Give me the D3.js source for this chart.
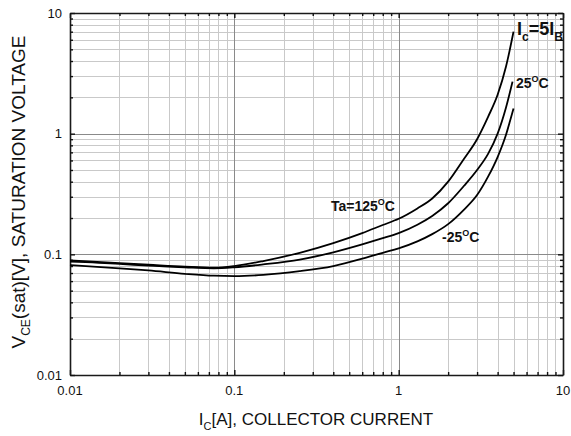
<!DOCTYPE html>
<html><head><meta charset="utf-8">
<script src="https://cdn.jsdelivr.net/npm/d3@7"></script>
<style>
body{margin:0;background:#fff}
svg{display:block}
text{font-family:"Liberation Sans",Arial,Helvetica,sans-serif;fill:#111}
</style>
</head><body>
<svg id="chart" width="571" height="436"></svg>
<script>
// ---- data ----
const xTickValues = [0.01, 0.1, 1, 10];
const xTickLabels = ["0.01", "0.1", "1", "10"];
const yTickValues = [0.01, 0.1, 1, 10];
const yTickLabels = ["0.01", "0.1", "1", "10"];

// Ta = 125 °C
const ic125   = [0.01, 0.02, 0.03, 0.05, 0.075, 0.1, 0.15, 0.25, 0.4, 0.6, 0.8, 1.0, 1.3, 1.6, 2.0, 2.5, 3.0, 3.5, 4.0, 4.5, 5.0];
const vce125  = [0.089, 0.0845, 0.082, 0.079, 0.0775, 0.080, 0.0880, 0.103, 0.124, 0.150, 0.175, 0.197, 0.240, 0.29, 0.40, 0.62, 0.90, 1.38, 2.1, 3.6, 7.0];
// Ta = 25 °C
const ic25    = [0.01, 0.02, 0.03, 0.05, 0.075, 0.1, 0.15, 0.25, 0.4, 0.6, 0.8, 1.0, 1.3, 1.6, 2.0, 2.5, 3.0, 3.5, 4.0, 4.5, 4.93];
const vce25   = [0.087, 0.0835, 0.0805, 0.078, 0.0765, 0.078, 0.0825, 0.0905, 0.104, 0.121, 0.136, 0.150, 0.176, 0.208, 0.265, 0.37, 0.50, 0.68, 1.00, 1.65, 2.70];
// Ta = -25 °C
const icm25   = [0.01, 0.02, 0.03, 0.05, 0.075, 0.1, 0.15, 0.25, 0.4, 0.6, 0.8, 1.0, 1.3, 1.6, 2.0, 2.5, 3.0, 3.5, 4.0, 4.5, 4.75, 5.0];
const vcem25  = [0.0816, 0.0765, 0.0735, 0.069, 0.0665, 0.066, 0.0675, 0.0725, 0.080, 0.092, 0.103, 0.112, 0.128, 0.147, 0.178, 0.235, 0.31, 0.44, 0.64, 0.98, 1.26, 1.62];

// ---- layout ----
const svg = d3.select("#chart");
const L = 70, R = 563, T = 13, B = 375;
const x = d3.scaleLog().domain([0.01, 10]).range([L, R]);
const y = d3.scaleLog().domain([0.01, 10]).range([B, T]);

// grid values
const minor = [];
[0.01, 0.1, 1].forEach(d => { for (let k = 2; k <= 9; k++) minor.push(d * k); });
const majorInner = [0.1, 1];

const px = v => Math.round(v) + 0.5;
const g = svg.append("g");

// minor grid
g.selectAll(".vmin").data(minor).join("line")
  .attr("x1", d => px(x(d))).attr("x2", d => px(x(d)))
  .attr("y1", T).attr("y2", B)
  .attr("stroke", "#c9c9c9").attr("stroke-width", 1);
g.selectAll(".hmin").data(minor).join("line")
  .attr("y1", d => px(y(d))).attr("y2", d => px(y(d)))
  .attr("x1", L).attr("x2", R)
  .attr("stroke", "#c9c9c9").attr("stroke-width", 1);
// major grid
g.selectAll(".vmaj").data(majorInner).join("line")
  .attr("x1", d => px(x(d))).attr("x2", d => px(x(d)))
  .attr("y1", T).attr("y2", B)
  .attr("stroke", "#8a8a8a").attr("stroke-width", 1);
g.selectAll(".hmaj").data(majorInner).join("line")
  .attr("y1", d => px(y(d))).attr("y2", d => px(y(d)))
  .attr("x1", L).attr("x2", R)
  .attr("stroke", "#8a8a8a").attr("stroke-width", 1);

// axes via d3 axis generators (ticks inward)
const allTicks = minor.concat(xTickValues);
const axOpts = (ax) => ax.tickValues(allTicks).tickFormat("").tickSizeOuter(0);
const sizeFor = d => (xTickValues.includes(d) ? 5 : 3);

function drawAxis(gen, transform) {
  const a = svg.append("g").attr("transform", transform).call(gen);
  a.select(".domain").attr("stroke", "#1a1a1a").attr("stroke-width", 1.6);
  a.selectAll(".tick line").attr("stroke", "#111").attr("stroke-width", 1.4);
  return a;
}
const axBottom = drawAxis(axOpts(d3.axisTop(x)), `translate(0,${B})`);
axBottom.selectAll(".tick line").attr("y2", d => -sizeFor(d));
const axTop = drawAxis(axOpts(d3.axisBottom(x)), `translate(0,${T})`);
axTop.selectAll(".tick line").attr("y2", d => sizeFor(d));
const axLeft = drawAxis(axOpts(d3.axisRight(y)), `translate(${L},0)`);
axLeft.selectAll(".tick line").attr("x2", d => sizeFor(d));
const axRight = drawAxis(axOpts(d3.axisLeft(y)), `translate(${R},0)`);
axRight.selectAll(".tick line").attr("x2", d => -sizeFor(d));

// tick labels
svg.append("g").selectAll("text").data(xTickValues).join("text")
  .attr("x", d => x(d)).attr("y", 395)
  .attr("text-anchor", "middle").attr("font-size", 13)
  .text((d, i) => xTickLabels[i]);
svg.append("g").selectAll("text").data(yTickValues).join("text")
  .attr("x", 62).attr("y", d => y(d) + 4.5)
  .attr("text-anchor", "end").attr("font-size", 13)
  .text((d, i) => yTickLabels[i]);

// curves
const line = d3.line().x(d => x(d[0])).y(d => y(d[1])).curve(d3.curveMonotoneX);
const series = [
  d3.zip(ic125, vce125),
  d3.zip(ic25, vce25),
  d3.zip(icm25, vcem25)
];
svg.append("g").selectAll("path").data(series).join("path")
  .attr("d", line).attr("fill", "none")
  .attr("stroke", "#000").attr("stroke-width", 1.8)
  .attr("stroke-linejoin", "round");

// annotations
function tempLabel(xp, yp, main) {
  const t = svg.append("text").attr("x", xp).attr("y", yp)
    .attr("font-size", 14).attr("font-weight", "bold");
  t.append("tspan").text(main);
  t.append("tspan").attr("dy", -6.5).attr("font-size", 9).text("O");
  t.append("tspan").attr("dy", 6.5).text("C");
}
tempLabel(331, 211, "Ta=125");
tempLabel(516, 88, "25");
tempLabel(442, 242, "-25");

const ic = svg.append("text").attr("x", 517).attr("y", 35)
  .attr("font-size", 18).attr("font-weight", "bold");
ic.append("tspan").text("I");
ic.append("tspan").attr("dy", 6).attr("font-size", 12).text("c");
ic.append("tspan").attr("dy", -6).text("=5I");
ic.append("tspan").attr("dy", 6).attr("font-size", 12).text("B");

// axis titles
const xt = svg.append("text").attr("x", 316).attr("y", 425)
  .attr("text-anchor", "middle").attr("font-size", 17);
xt.append("tspan").text("I");
xt.append("tspan").attr("dy", 5).attr("font-size", 11).text("C");
xt.append("tspan").attr("dy", -5).text("[A], COLLECTOR CURRENT");

const yt = svg.append("text").attr("transform", "translate(25,192) rotate(-90)")
  .attr("text-anchor", "middle").attr("font-size", 19);
yt.append("tspan").text("V");
yt.append("tspan").attr("dy", 5).attr("font-size", 12).text("CE");
yt.append("tspan").attr("dy", -5).text("(sat)[V], SATURATION VOLTAGE");
</script>
</body></html>
